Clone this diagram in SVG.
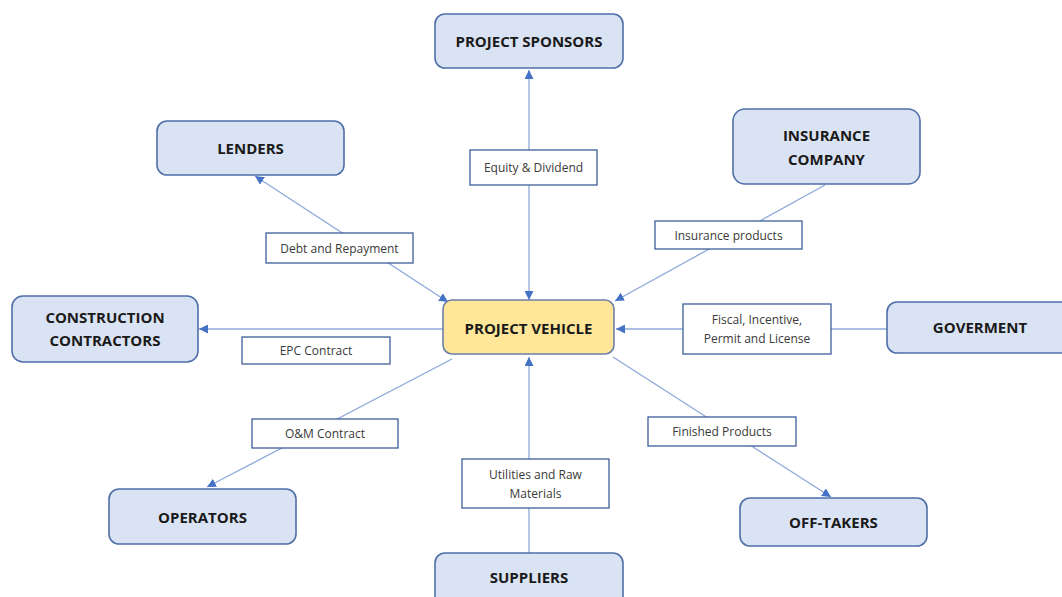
<svg xmlns="http://www.w3.org/2000/svg" width="1062" height="597" viewBox="0 0 1062 597">
<style>
.node rect{fill:#DAE3F3;stroke:#4F6FA8;stroke-width:1.6}
.node text{font-family:"Open Sans","Liberation Sans",sans-serif;font-weight:bold;font-size:15px;fill:#1A1A1A;text-anchor:middle}
#vehicle rect{fill:#FFE699;stroke:#6B7FA6}
.lbl rect{fill:#FFFFFF;stroke:#3E5E9A;stroke-width:1.3}
.lbl text{font-family:"Open Sans","Liberation Sans",sans-serif;font-size:12px;fill:#3A3A3A;text-anchor:middle}
.conn line{stroke:#8EA9DB;stroke-width:1.3;fill:none}
</style>
<defs>
<marker id="ah" viewBox="0 0 10 10" refX="10" refY="5" markerWidth="9" markerHeight="9" markerUnits="userSpaceOnUse" orient="auto-start-reverse">
<path d="M0,0 L10,5 L0,10 z" fill="#4472C4"/>
</marker>
</defs>
<rect width="1062" height="597" fill="#FFFFFF"/>
<g id="connectors" class="conn">
<line x1="529" y1="300" x2="529" y2="70" marker-start="url(#ah)" marker-end="url(#ah)"/>
<line x1="448" y1="302" x2="255" y2="176" marker-start="url(#ah)" marker-end="url(#ah)"/>
<line x1="825" y1="185" x2="615" y2="301" marker-end="url(#ah)"/>
<line x1="443" y1="329" x2="199" y2="329" marker-end="url(#ah)"/>
<line x1="887" y1="329" x2="616" y2="329" marker-end="url(#ah)"/>
<line x1="452" y1="359" x2="207" y2="487" marker-end="url(#ah)"/>
<line x1="529" y1="553" x2="529" y2="357" marker-end="url(#ah)"/>
<line x1="613" y1="357" x2="831" y2="497" marker-end="url(#ah)"/>
</g>
<g id="labels">
<g id="lbl-equity" class="lbl"><rect x="470" y="150" width="127" height="35"/><text x="533.5" y="172">Equity &amp; Dividend</text></g>
<g id="lbl-debt" class="lbl"><rect x="266" y="233" width="147" height="30"/><text x="339.5" y="252.5">Debt and Repayment</text></g>
<g id="lbl-ins" class="lbl"><rect x="655" y="221" width="147" height="28"/><text x="728.5" y="239.5">Insurance products</text></g>
<g id="lbl-epc" class="lbl"><rect x="242" y="337" width="148" height="27"/><text x="316" y="355">EPC Contract</text></g>
<g id="lbl-fiscal" class="lbl"><rect x="683" y="304" width="148" height="50"/><text x="757" y="324">Fiscal, Incentive,</text><text x="757" y="343">Permit and License</text></g>
<g id="lbl-om" class="lbl"><rect x="252" y="419" width="146" height="29"/><text x="325" y="438">O&amp;M Contract</text></g>
<g id="lbl-util" class="lbl"><rect x="462" y="459" width="147" height="49"/><text x="535.5" y="479">Utilities and Raw</text><text x="535.5" y="498">Materials</text></g>
<g id="lbl-fin" class="lbl"><rect x="648" y="417" width="148" height="29"/><text x="722" y="436">Finished Products</text></g>
</g>
<g id="sponsors" class="node"><rect x="435" y="14" width="188" height="54" rx="10"/><text x="529" y="47">PROJECT SPONSORS</text></g>
<g id="lenders" class="node"><rect x="157" y="121" width="187" height="54" rx="10"/><text x="250.5" y="154">LENDERS</text></g>
<g id="insurance" class="node"><rect x="733" y="109" width="187" height="75" rx="12"/><text x="826.5" y="141">INSURANCE</text><text x="826.5" y="165">COMPANY</text></g>
<g id="construction" class="node"><rect x="12" y="296" width="186" height="66" rx="11"/><text x="105" y="323">CONSTRUCTION</text><text x="105" y="346">CONTRACTORS</text></g>
<g id="vehicle" class="node"><rect x="443" y="300" width="171" height="54" rx="9"/><text x="528.5" y="334">PROJECT VEHICLE</text></g>
<g id="government" class="node"><rect x="887" y="302" width="185" height="51" rx="10"/><text x="980" y="333">GOVERMENT</text></g>
<g id="operators" class="node"><rect x="109" y="489" width="187" height="55" rx="10"/><text x="202.5" y="523">OPERATORS</text></g>
<g id="suppliers" class="node"><rect x="435" y="553" width="188" height="55" rx="10"/><text x="529" y="583">SUPPLIERS</text></g>
<g id="offtakers" class="node"><rect x="740" y="498" width="187" height="48" rx="10"/><text x="833.5" y="528">OFF-TAKERS</text></g>
</svg>
